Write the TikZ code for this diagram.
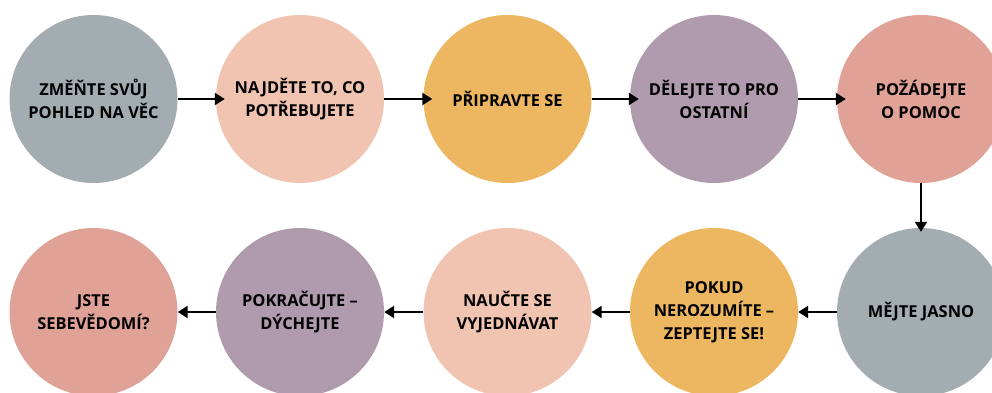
\documentclass[tikz,border=0pt]{standalone}
\usepackage{fontspec}
\setmainfont{Open Sans}
\usetikzlibrary{arrows.meta}

\definecolor{grey}{HTML}{A3ACB1}
\definecolor{peach}{HTML}{F0C4B0}
\definecolor{amber}{HTML}{EDB660}
\definecolor{lilac}{HTML}{B09BAE}
\definecolor{salmon}{HTML}{E0A197}

\begin{document}
\begin{tikzpicture}[x=1bp, y=-1bp]
    % --- Styles ---
    \tikzstyle{bubble}=[circle, minimum size=168bp, inner sep=0pt, align=center,
        font=\fontsize{16.5}{23}\selectfont\bfseries, text=black]
    \tikzstyle{flow}=[line width=2.2bp, -{Triangle[length=10bp, width=12bp]}]
    \tikzstyle{into}=[shorten >=-9bp]

    % --- Canvas ---
    \useasboundingbox (0,0) rectangle (992,392);
    \clip (0,0) rectangle (992,392);

    % --- 1. Top row (left to right) ---
    \node[bubble, fill=grey]   (zmente)   at (93.5, 99) {ZMĚŇTE SVŮJ\\POHLED NA VĚC};
    \node[bubble, fill=peach]  (najdete)  at (300, 99)  {NAJDĚTE TO, CO\\POTŘEBUJETE};
    \node[bubble, fill=amber]  (pripravte) at (507.5, 99) {PŘIPRAVTE SE};
    \node[bubble, fill=lilac]  (delejte)  at (714, 99)  {DĚLEJTE TO PRO\\OSTATNÍ};
    \node[bubble, fill=salmon] (pozadejte) at (921, 99) {POŽÁDEJTE\\O POMOC};

    % --- 2. Bottom row (right to left) ---
    \node[bubble, fill=grey]   (mejte)    at (921, 312) {MĚJTE JASNO};
    \node[bubble, fill=amber]  (pokud)    at (714, 312) {POKUD\\NEROZUMÍTE –\\ZEPTEJTE SE!};
    \node[bubble, fill=peach]  (naucte)   at (507.5, 312) {NAUČTE SE\\VYJEDNÁVAT};
    \node[bubble, fill=lilac]  (pokracujte) at (300, 312) {POKRAČUJTE –\\DÝCHEJTE};
    \node[bubble, fill=salmon] (jste)     at (93.5, 312) {JSTE\\SEBEVĚDOMÍ?};

    % --- 3. Arrows ---
    \draw[flow, into] (zmente) -- (najdete);
    \draw[flow, into] (najdete) -- (pripravte);
    \draw[flow, into] (pripravte) -- (delejte);
    \draw[flow, into] (delejte) -- (pozadejte);
    \draw[flow, shorten >=-4bp] (pozadejte) -- (mejte);
    \draw[flow] (mejte) -- (pokud);
    \draw[flow] (pokud) -- (naucte);
    \draw[flow] (naucte) -- (pokracujte);
    \draw[flow] (pokracujte) -- (jste);
\end{tikzpicture}
\end{document}
